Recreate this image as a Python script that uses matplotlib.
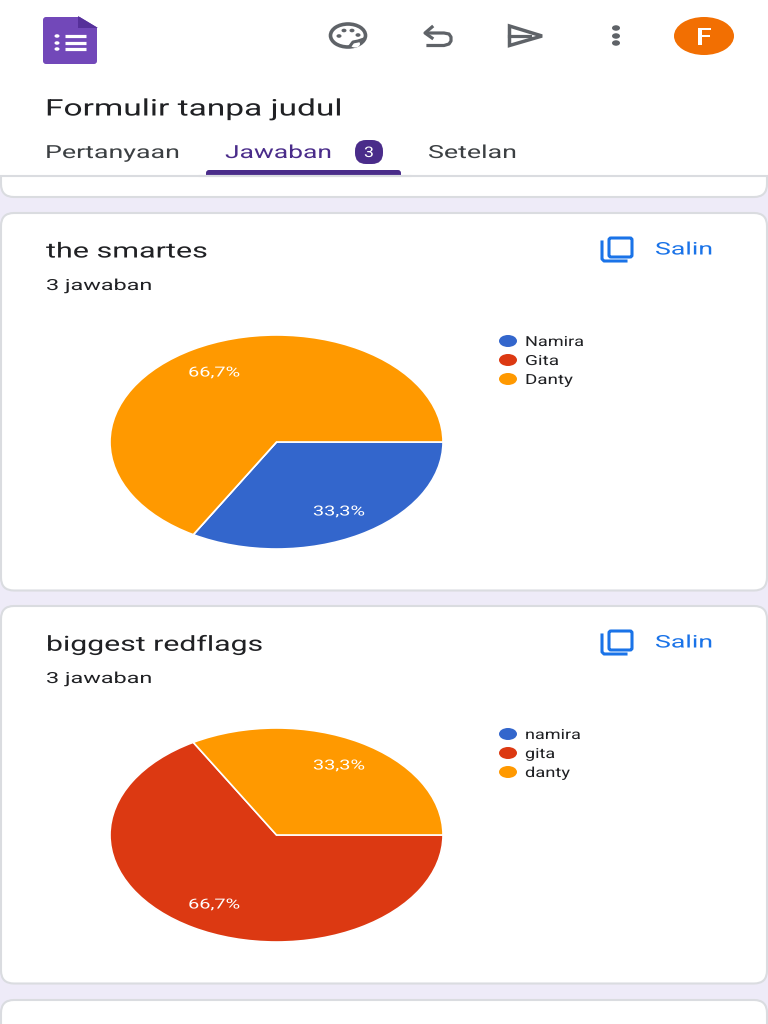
import matplotlib
matplotlib.use('Agg')
import matplotlib.pyplot as plt
from matplotlib.patches import Ellipse, FancyBboxPatch, Polygon, Rectangle
from matplotlib.patheffects import AbstractPathEffect
from matplotlib.transforms import Affine2D

# data
form_title = 'Formulir tanpa judul'
tabs = ['Pertanyaan', 'Jawaban', 'Setelan']
answer_count = '3'
answers_label = '3 jawaban'
copy_label = 'Salin'

q1_title = 'the smartes'
q1_names = ['Namira', 'Gita', 'Danty']
q1_values = [1, 0, 2]

q2_title = 'biggest redflags'
q2_names = ['namira', 'gita', 'danty']
q2_values = [0, 2, 1]

colors = ['#3366CC', '#DC3912', '#FF9900']

W, H = 768, 1024
DARK = '#202124'
GREY = '#5F6368'
PURPLE = '#4A2C8A'
BLUE = '#1A73E8'

plt.rcParams['font.family'] = ['Roboto', 'DejaVu Sans']

fig = plt.figure(figsize=(W / 100, H / 100), dpi=100, facecolor='white')
bg = fig.add_axes([0, 0, 1, 1])
bg.set_xlim(0, W)
bg.set_ylim(H, 0)
bg.axis('off')
renderer = fig.canvas.get_renderer()


# the screenshot is stretched sideways, so the glyphs have to be too
class StretchX(AbstractPathEffect):
    def __init__(self, sx, dx=0):
        super().__init__()
        self.sx = sx
        self.dx = dx

    def draw_path(self, renderer, gc, tpath, affine, rgbFace=None):
        tr = Affine2D().scale(self.sx, 1) + affine + Affine2D().translate(self.dx, 0)
        renderer.draw_path(gc, tpath, tr, rgbFace)


def fit(t, width, center=False):
    w = t.get_window_extent(renderer).width
    dx = -(width - w) / 2 if center else 0
    t.set_path_effects([StretchX(width / w, dx)])
    return t


def label(x, y, s, size, width, color=DARK, **kw):
    return fit(bg.text(x, y + 2, s, fontsize=size, color=color, va='center', **kw), width)


def card(y0, y1):
    bg.add_patch(FancyBboxPatch((1, y0), W - 2, y1 - y0, boxstyle='round,pad=0,rounding_size=13',
                                fc='white', ec='#DADCE0', lw=1.5))


def fmt_pct(p):
    if p == 0:
        return ''
    return f'{p:.1f}%'.replace('.', ',')


def question(y0, title, title_w, names, name_w, values):
    # y0 = top edge of the card
    card(y0, y0 + 377.5)
    label(46, y0 + 37, title, 15, title_w)
    label(46, y0 + 71, answers_label, 11, 106)

    # copy icon
    bg.add_patch(FancyBboxPatch((609, y0 + 25), 23, 19, boxstyle='round,pad=0,rounding_size=2',
                                fc='none', ec=BLUE, lw=2.2))
    bg.plot([602, 602, 604, 626], [y0 + 29, y0 + 46, y0 + 48, y0 + 48], color=BLUE, lw=2.2)
    label(655, y0 + 35, copy_label, 12.5, 58, color=BLUE)

    # legend
    for i, name in enumerate(names):
        ly = y0 + 128 + i * 19
        bg.add_patch(Ellipse((508, ly), 18, 12, fc=colors[i], ec='none'))
        label(525, ly - 1, name, 10, name_w[i])

    # pie, squashed like the screenshot
    ax = fig.add_axes([110 / W, 1 - (y0 + 336) / H, 333 / W, 214 / H])
    wedges, _, pct = ax.pie(values, colors=colors, startangle=0, counterclock=False, radius=1,
                            autopct=fmt_pct, pctdistance=0.75,
                            wedgeprops={'edgecolor': 'white', 'linewidth': 1.2})
    ax.set_xlim(-1, 1)
    ax.set_ylim(-1, 1)
    ax.set_aspect('auto')
    for t in pct:
        t.set_color('white')
        t.set_fontsize(10)
        if t.get_text():
            fit(t, 52, center=True)


# page background and cards
bg.add_patch(Rectangle((0, 176), W, H - 176, fc='#EEEBF8', ec='none'))
bg.add_patch(FancyBboxPatch((1, 150), W - 2, 47, boxstyle='round,pad=0,rounding_size=13',
                            fc='white', ec='#DADCE0', lw=1.5))
question(213, q1_title, 162, q1_names, [59, 34, 48], q1_values)
question(606, q2_title, 218, q2_names, [56, 30, 45], q2_values)
card(1000, 1050)

# header
bg.add_patch(Rectangle((0, 0), W, 175, fc='white', ec='none'))
bg.plot([0, W], [175.5, 175.5], color='#DADCE0', lw=1.5)

# forms logo
bg.add_patch(FancyBboxPatch((43, 17), 54, 47, boxstyle='round,pad=0,rounding_size=3',
                            fc='#7248B9', ec='none'))
bg.add_patch(Polygon([[78, 16], [98, 16], [98, 28]], fc='white', ec='none'))
bg.add_patch(Polygon([[78, 16], [98, 28], [78, 28]], fc='#56309A', ec='none'))
for ly in (36, 43, 49):
    bg.plot([65, 86], [ly, ly], color='white', lw=2.3, solid_capstyle='butt')
    bg.add_patch(Ellipse((57, ly), 5, 3.5, fc='white', ec='none'))

# palette
bg.add_patch(Ellipse((348, 35.5), 35, 23, fc='none', ec=GREY, lw=2.6))
bg.add_patch(Ellipse((355, 44), 10, 7, fc='white', ec='none'))
bg.plot([350, 353, 358, 364], [46, 42, 41, 39], color=GREY, lw=2.2)
for px, py in [(339, 36), (344, 30.5), (352, 30.5), (358, 35)]:
    bg.add_patch(Ellipse((px, py), 5, 3.6, fc=GREY, ec='none'))

# undo
bg.plot([427, 444, 449, 451, 451, 449, 444, 428], [33, 33, 34, 37, 41, 44, 45.5, 45.5],
        color=GREY, lw=2.3)
bg.plot([432, 425, 432], [27, 33, 38], color=GREY, lw=2.3)

# send
bg.add_patch(Polygon([[509.5, 26], [542, 36], [509.5, 45.5]], fc='none', ec=GREY, lw=2.5))
bg.plot([509, 530], [36, 36], color=GREY, lw=2.3)

# more
for ly in (28, 36, 43):
    bg.add_patch(Ellipse((616, ly), 8, 5.5, fc=GREY, ec='none'))

# avatar
bg.add_patch(Ellipse((704, 36), 60, 38, fc='#F26F02', ec='none'))
fit(bg.text(704, 38, 'F', fontsize=17, fontweight='medium', color='white', ha='center', va='center'),
    15, center=True)

# title and tabs
label(45, 107, form_title, 16.5, 297)
label(45, 151, tabs[0], 13, 135, color='#3C4043')
label(225, 151, tabs[1], 13, 107, color=PURPLE)
label(428, 151, tabs[2], 13, 89, color='#3C4043')
bg.add_patch(FancyBboxPatch((355, 140), 28, 24, boxstyle='round,pad=0,rounding_size=11',
                            fc=PURPLE, ec='none'))
fit(bg.text(369, 153, answer_count, fontsize=10.5, color='white', ha='center', va='center'), 10, center=True)
bg.add_patch(FancyBboxPatch((206, 170), 195, 8, boxstyle='round,pad=0,rounding_size=3',
                            fc=PURPLE, ec='none'))
bg.add_patch(Rectangle((200, 175), 210, 5, fc='white', ec='none'))
bg.plot([200, 410], [175.5, 175.5], color='#DADCE0', lw=1.5)

fig.savefig('out.png', dpi=100)
